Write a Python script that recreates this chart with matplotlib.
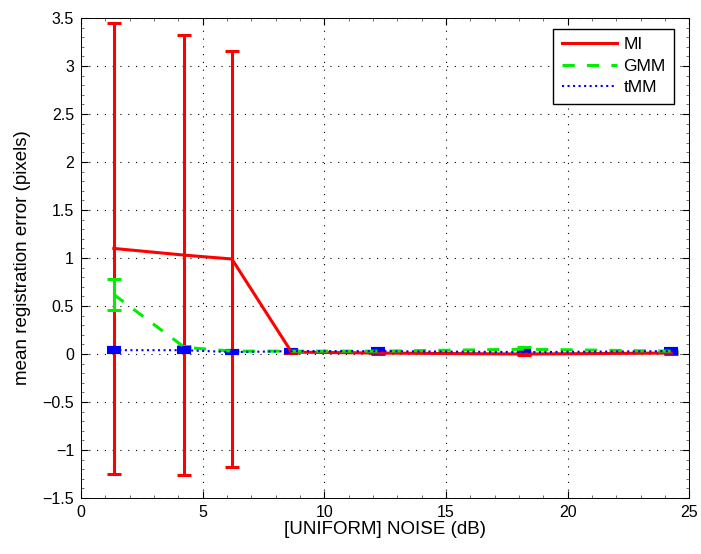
import numpy as np
import matplotlib
matplotlib.use("Agg")
import matplotlib.pyplot as plt
from matplotlib.lines import Line2D
from matplotlib.ticker import MultipleLocator

plt.rcParams['font.family'] = ['Liberation Sans', 'DejaVu Sans']

noise_db = [1.35, 4.25, 6.2, 8.65, 12.2, 18.2, 24.25]

mi_mean = [1.10, 1.03, 0.99, 0.02, 0.01, 0.00, 0.01]
mi_err = [2.35, 2.29, 2.17, 0.01, 0.01, 0.01, 0.01]

gmm_mean = [0.62, 0.07, 0.03, 0.03, 0.03, 0.05, 0.03]
gmm_err = [0.16, 0.01, 0.01, 0.01, 0.01, 0.02, 0.01]

tmm_mean = [0.04, 0.04, 0.02, 0.03, 0.03, 0.02, 0.03]
tmm_err = [0.02, 0.02, 0.01, 0.01, 0.02, 0.01, 0.02]

ytick_vals = np.arange(-1.5, 3.6, 0.5)
ytick_labels = [('%g' % v).replace('-', '\u2212') for v in ytick_vals]

fig = plt.figure(figsize=(7.01, 5.54), dpi=100)
ax = fig.add_axes([0.1155, 0.101, 0.868, 0.8665])

ax.errorbar(noise_db, mi_mean, yerr=mi_err, color='red', linestyle='-', linewidth=2.2,
            elinewidth=2.2, capsize=5, capthick=2.2)
ax.errorbar(noise_db, gmm_mean, yerr=gmm_err, color='#00ee00', linestyle='--', linewidth=2.2,
            elinewidth=2.2, capsize=5, capthick=2.2, dashes=(4, 4))
ax.errorbar(noise_db, tmm_mean, yerr=tmm_err, color='blue', linestyle=':', linewidth=1.5,
            elinewidth=3, capsize=5, capthick=3)

ax.set_xlim(0, 25)
ax.set_ylim(-1.5, 3.5)
ax.set_xticks(np.arange(0, 26, 5))
ax.set_yticks(ytick_vals)
ax.set_yticklabels(ytick_labels)
ax.xaxis.set_minor_locator(MultipleLocator(1))
ax.yaxis.set_minor_locator(MultipleLocator(0.1))
ax.grid(True, which='major', linestyle=(0, (1, 6)), color='black', linewidth=0.8)
ax.tick_params(which='both', direction='in', top=True, right=True)
ax.tick_params(which='major', labelsize=11.5, length=5, pad=5)
ax.tick_params(which='minor', length=2.5, color='#555555')
for s in ax.spines.values():
    s.set_linewidth(0.7)

ax.set_xlabel('[UNIFORM] NOISE (dB)', fontsize=13.5, labelpad=1)
ax.set_ylabel('mean registration error (pixels)', fontsize=13.5, labelpad=8)

handles = [Line2D([], [], color='red', linestyle='-', linewidth=2.2),
           Line2D([], [], color='#00ee00', linewidth=2.2, dashes=(4, 4)),
           Line2D([], [], color='blue', linestyle=':', linewidth=1.5)]
leg = ax.legend(handles, ['MI', 'GMM', 'tMM'], loc='upper right', fontsize=12.5,
                fancybox=False, framealpha=1, edgecolor='black', handlelength=3.2,
                bbox_to_anchor=(0.975, 0.978), borderaxespad=0, labelspacing=0.35,
                handletextpad=0.35, borderpad=0.5)
leg.get_frame().set_linewidth(1.0)

fig.savefig('out.png', dpi=100)
